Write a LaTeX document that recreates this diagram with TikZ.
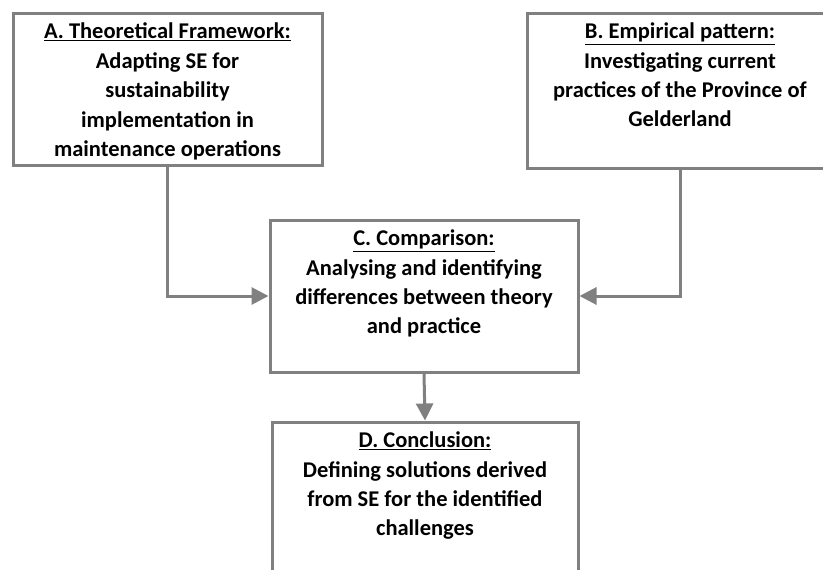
\documentclass[tikz,border=0pt]{standalone}
\usepackage{fontspec}
\setmainfont{Carlito}
\usetikzlibrary{positioning,arrows.meta}
\definecolor{framegray}{RGB}{128,128,128}
\newcommand{\stagetext}[3]{\parbox[c][#2pt][t]{#1pt}{\centering\vspace*{10pt}#3}}

\begin{document}
\begin{tikzpicture}[
    x=1pt, y=-1pt,
    stage/.style={draw=framegray, line width=3pt, fill=white, inner sep=0pt,
                  font=\bfseries\fontsize{22.5}{29.4}\selectfont},
    flow/.style={draw=framegray, line width=3pt,
                 -{Triangle[length=17pt, width=17pt]}}
]
\clip (0,0) rectangle (823,570);
\useasboundingbox (0,0) rectangle (823,570);

% Four stages of the research
\node[stage] (theory) at (167.5,89) {\stagetext{309}{152}{\underline{A. Theoretical Framework:}\\
  Adapting SE for\\ sustainability\\ implementation in\\ maintenance operations}};
\node[stage] (empiric) at (680,90.5) {\stagetext{306}{155}{\underline{B. Empirical pattern:}\\
  Investigating current\\ practices of the Province of\\ Gelderland}};
\node[stage] (compare) at (424,296) {\stagetext{308}{152}{\underline{C. Comparison:}\\
  Analysing and identifying\\ differences between theory\\ and practice}};
\node[stage] (conclude) at (425,498) {\stagetext{306}{152}{\underline{D. Conclusion:}\\
  Defining solutions derived\\ from SE for the identified\\ challenges}};

% Connectors
\draw[flow] (theory.south) |- (compare.west);
\draw[flow] (empiric.south) |- (compare.east);
\draw[flow] (compare.south) -- (conclude.north);

\end{tikzpicture}
\end{document}
